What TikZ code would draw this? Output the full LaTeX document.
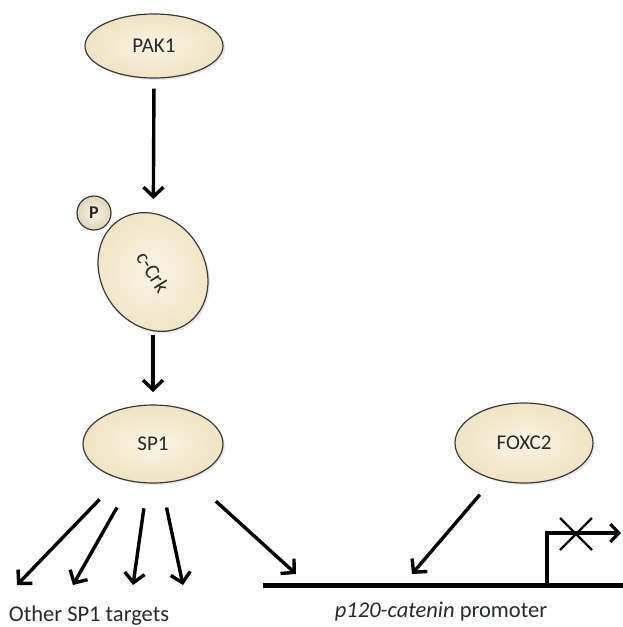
\documentclass[tikz,border=0pt]{standalone}
\usepackage{fontspec}
\setmainfont{Carlito}
\usetikzlibrary{arrows.meta,shapes.geometric,shadows,calc}
\definecolor{cream}{HTML}{EFE4C4}
\definecolor{creamlight}{HTML}{F8F3E4}
\definecolor{edge}{HTML}{3A3A3A}
\definecolor{txt}{HTML}{262B26}
\tikzset{
  prot/.style={ellipse, draw=edge, line width=1.2pt, inner color=creamlight, outer color=cream,
    text=txt, font=\fontsize{21}{23}\selectfont, drop shadow={opacity=0.18, shadow xshift=2pt, shadow yshift=-2pt}},
  arr/.style={line width=3.4pt, -{Straight Barb[length=9.5pt,width=20pt,line width=3.4pt]}},
  lbl/.style={text=txt, font=\fontsize{22.5}{24}\selectfont, anchor=base}
}
\begin{document}
\begin{tikzpicture}[x=1pt,y=-1pt]
\useasboundingbox (0,0) rectangle (623,627);
% proteins
\node[prot, minimum width=138pt, minimum height=64pt] (pak1) at (154,46) {PAK1};
\node[prot, minimum width=124pt, minimum height=104pt, rotate=-58] (crk) at (153,272) {c-Crk};
\node[circle, draw=edge, line width=1.2pt, inner color=creamlight, outer color=cream!85!gray,
  minimum size=34pt, inner sep=0pt, font=\bfseries\fontsize{18}{20}\selectfont, text=txt] (p) at (94,213) {P};
\node[prot, minimum width=140pt, minimum height=78pt] (sp1) at (153,444) {SP1};
\node[prot, minimum width=138pt, minimum height=80pt] (foxc2) at (524,443) {FOXC2};
% coordinates
\coordinate (t0) at (153,392);
\coordinate (t1) at (17,585);
\coordinate (t2) at (73,585);
\coordinate (t3) at (133,585);
\coordinate (t4) at (183,585);
\coordinate (t5) at (296,574);
\coordinate (t6) at (412,574);
\coordinate (pl) at (263,585);
\coordinate (pr) at (623,585);
\coordinate (tss) at (547,585);
\coordinate (tssend) at (621,533);
\coordinate (xc) at (576,534);
% arrows
\draw[arr, shorten <=10pt, shorten >=73pt] (pak1.south) -- (crk.center);
\draw[arr, shorten <=63pt] (crk.center) -- (t0);
\draw[arr, shorten <=77pt] (sp1.center) -- (t1);
\draw[arr, shorten <=73pt] (sp1.center) -- (t2);
\draw[arr, shorten <=65pt] (sp1.center) -- (t3);
\draw[arr, shorten <=65pt] (sp1.center) -- (t4);
\draw[arr, shorten <=85pt] (sp1.center) -- (t5);
\draw[arr, shorten <=68pt] (foxc2.center) -- (t6);
% promoter
\draw[line width=5pt] (pl) -- (pr);
\draw[line width=3.2pt, -{Straight Barb[length=8.5pt,width=18pt,line width=3.2pt]}] (tss) |- (tssend);
\draw[line width=2.4pt] ($(xc)+(-16,-16)$) -- ($(xc)+(16,16)$) ($(xc)+(-16,16)$) -- ($(xc)+(16,-16)$);
% labels
\node[lbl] (other) at (89,621) {Other SP1 targets};
\node[lbl] (prom) at (441,617) {\textit{p120-catenin} promoter};
\end{tikzpicture}
\end{document}
